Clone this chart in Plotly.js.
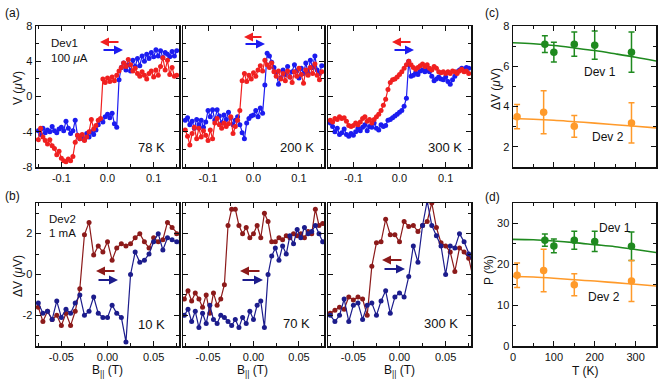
<!DOCTYPE html>
<html>
<head>
<meta charset="utf-8">
<script src="https://cdn.plot.ly/plotly-3.0.1.min.js"></script>
<style>
  html, body { margin: 0; padding: 0; background: #fff; }
  #chart { width: 663px; height: 379px; }
</style>
</head>
<body>
<div id="chart"></div>
<script>
// Spin-valve style hysteresis loops (a, b) and temperature dependence (c, d)

// ---- (a) Dev1, 100 uA : field sweep in T, voltage in uV ----
const fieldA = [-0.150,-0.145,-0.140,-0.135,-0.130,-0.125,-0.120,-0.115,-0.110,-0.105,
  -0.100,-0.095,-0.090,-0.085,-0.080,-0.075,-0.070,-0.065,-0.060,-0.055,
  -0.050,-0.045,-0.040,-0.035,-0.030,-0.025,-0.020,-0.015,-0.010,-0.005,
  0.000,
  0.005,0.010,0.015,0.020,0.025,0.030,0.035,0.040,0.045,0.050,
  0.055,0.060,0.065,0.070,0.075,0.080,0.085,0.090,0.095,0.100,
  0.105,0.110,0.115,0.120,0.125,0.130,0.135,0.140,0.145,0.150];

const v78Down = [-4.9,-3.6,-4.6,-5.0,-5.4,-4.9,-5.6,-5.9,-6.6,-6.2,
  -7.0,-7.3,-7.4,-7.1,-7.3,-6.8,-5.2,-4.4,-4.8,-4.3,
  -5.0,-4.6,-4.0,-2.6,-3.7,-3.3,-2.7,-2.5,2.0,1.6,
  2.1,
  1.7,2.2,1.8,2.4,2.9,3.3,3.8,3.4,4.2,3.6,
  2.9,3.2,2.6,2.3,2.8,2.4,2.0,2.6,2.9,2.2,
  3.0,2.4,3.4,4.4,3.0,4.1,2.5,3.3,2.3,2.4];
const v78Up = [-3.9,-4.3,-3.6,-4.1,-3.8,-4.0,-3.4,-3.9,-4.1,-3.7,
  -3.5,-3.9,-2.8,-3.6,-4.2,-3.9,-2.7,-4.4,-4.8,-4.5,
  -4.9,-4.2,-4.6,-4.0,-4.3,-3.8,-3.2,-2.6,-2.9,-2.3,
  -2.0,
  -2.4,-1.9,-3.1,-3.5,1.9,3.3,3.8,3.0,3.6,2.9,
  4.1,3.4,4.3,3.5,4.6,4.0,4.8,4.3,5.0,4.5,
  5.3,4.6,5.2,4.4,5.0,4.8,4.5,5.1,4.6,5.2];

const v200Down = [-3.8,-4.5,-5.5,-4.2,-3.5,-4.8,-3.6,-4.6,-3.9,-4.4,
  -5.0,-3.8,-4.8,-3.0,-2.5,-3.2,-3.6,-3.0,-3.4,-3.1,
  -2.3,-4.2,-3.4,-2.7,-1.6,1.8,2.6,1.7,2.4,2.0,
  2.7,
  2.3,3.0,3.5,2.9,4.1,3.6,3.3,3.8,2.8,2.3,
  2.9,2.0,2.6,1.8,2.9,2.2,1.6,2.8,2.3,3.2,
  2.5,1.5,3.0,2.4,3.3,2.6,3.7,2.4,1.9,2.8];
const v200Up = [-2.7,-2.4,-3.2,-2.8,-3.6,-2.6,-3.2,-2.7,-3.5,-2.9,
  -1.6,-2.3,-1.5,-2.7,-1.5,-2.2,-3.0,-2.1,-2.6,-1.8,
  -2.4,-3.2,-2.7,-2.3,-3.2,-4.1,-4.8,-3.0,-2.5,-2.2,
  -2.1,
  -1.6,-2.3,-1.3,-1.9,1.3,4.9,4.6,3.9,3.3,2.7,
  1.4,2.1,3.0,2.5,3.4,2.2,2.8,3.6,2.9,2.1,
  3.2,2.6,3.8,2.7,4.1,3.3,4.6,3.0,2.6,3.5];

const v300Down = [-2.7,-2.9,-2.5,-2.6,-2.3,-2.5,-2.4,-2.8,-3.3,-3.4,
  -3.3,-3.0,-3.2,-2.9,-2.5,-2.3,-2.8,-2.6,-3.0,-2.6,
  -2.3,-2.0,-1.6,-1.0,-0.3,0.8,1.6,1.9,2.0,2.2,
  2.5,
  2.8,3.2,3.6,4.0,3.6,3.3,3.1,3.3,3.5,3.7,
  3.4,3.6,3.2,3.0,3.4,3.2,2.8,2.7,2.8,2.6,
  2.8,2.6,2.9,2.8,2.6,2.9,3.1,2.8,2.9,2.6];
const v300Up = [-3.0,-3.4,-4.0,-3.6,-4.3,-4.1,-3.7,-4.3,-4.5,-4.2,
  -4.4,-4.0,-3.6,-3.9,-3.5,-3.2,-3.9,-3.4,-3.5,-3.0,
  -3.6,-3.8,-3.2,-3.4,-3.3,-2.7,-2.6,-2.4,-2.2,-2.0,
  -1.8,
  -1.6,-1.1,-0.2,4.0,2.3,2.4,2.7,2.5,2.9,3.0,
  2.8,3.0,2.8,2.3,1.8,2.0,2.2,2.0,1.9,2.2,
  1.7,1.4,1.9,2.3,2.8,3.0,3.2,3.1,3.3,3.2];

// ---- (b) Dev2, 1 mA ----
const fieldB = [-0.075,-0.070,-0.065,-0.060,-0.055,-0.050,-0.045,-0.040,-0.035,-0.030,
  -0.025,-0.020,-0.015,-0.010,-0.005,
  0.000,
  0.005,0.010,0.015,0.020,0.025,0.030,0.035,0.040,0.045,0.050,
  0.055,0.060,0.065,0.070,0.075,0.080];
const fieldB70 = [-0.076,-0.072,-0.068,-0.064,-0.060,-0.056,-0.052,-0.048,-0.044,-0.040,
  -0.036,-0.032,-0.028,-0.024,-0.020,-0.016,-0.012,-0.008,-0.004,
  0.000,
  0.004,0.008,0.012,0.016,0.020,0.024,0.028,0.032,0.036,0.040,
  0.044,0.048,0.052,0.056,0.060,0.064,0.068,0.072,0.076];

const dv10Down = [-1.6,-2.3,-1.8,-2.2,-2.0,-2.5,-1.9,-2.5,-1.8,-0.7,
  1.95,2.55,0.95,1.4,1.1,
  1.6,
  0.7,1.3,1.5,1.4,1.5,1.8,2.0,1.6,1.3,1.8,
  1.6,1.7,2.55,2.3,2.0,1.8];
const dv10Up = [-1.4,-1.9,-1.8,-2.2,-1.3,-2.1,-1.7,-1.9,-1.4,-1.0,
  -2.0,-1.8,-1.1,-1.9,-2.1,
  -2.1,
  -1.5,-1.9,-2.1,-3.3,0.0,1.1,0.6,0.7,1.0,1.6,
  2.0,1.2,1.8,1.7,1.6,1.5];

const dv70Down = [-1.2,-0.8,-1.3,-0.9,-1.2,-1.6,-1.0,-1.9,-0.9,-1.5,
  -1.2,-0.5,2.4,3.2,3.2,2.4,2.0,2.3,1.8,
  2.0,
  2.4,1.8,3.0,2.6,1.6,1.6,1.8,1.7,1.9,1.8,
  2.0,1.9,2.0,1.8,2.1,2.0,3.2,2.4,2.5];
const dv70Up = [-2.0,-1.7,-2.3,-1.8,-2.6,-1.9,-2.4,-1.5,-2.2,-2.4,
  -2.0,-2.1,-2.3,-2.5,-2.2,-2.6,-2.1,-2.4,-1.8,
  -2.2,
  -1.5,-1.3,-2.6,0.0,0.9,1.3,0.7,1.4,1.0,1.9,
  1.5,2.2,1.8,2.3,2.0,2.1,2.4,2.0,1.6];

const dv300Down = [-1.9,-1.75,-1.6,-1.7,-1.1,-1.25,-1.1,-1.2,-2.0,0.4,
  1.55,1.6,2.7,1.95,1.95,
  1.6,
  2.6,2.35,2.4,2.1,2.4,2.6,3.5,2.3,1.55,1.4,
  1.1,0.15,1.3,1.1,0.8,-0.2];
const dv300Up = [-2.0,-2.3,-2.0,-1.2,-2.3,-1.5,-1.4,-2.2,-1.5,-1.4,
  -2.0,-1.3,-0.8,-1.9,-1.1,
  -0.9,
  -1.1,-0.1,1.4,0.6,2.4,3.6,2.4,1.9,1.4,0.0,
  1.4,1.3,2.0,1.6,1.0,0.5];

// ---- (c), (d) temperature dependence ----
const tempDev1 = [78, 100, 150, 200, 290];
const tempDev2 = [10, 75, 150, 290];
const dvDev1 = [7.1, 6.7, 7.1, 7.05, 6.7];
const dvDev1Err = [0.42, 0.49, 0.6, 0.7, 1.0];
const dvDev2 = [3.5, 3.72, 3.02, 3.19];
const dvDev2Err = [0.6, 1.07, 0.54, 1.0];
const pDev1 = [25.9, 24.5, 25.9, 25.6, 24.4];
const pDev1Err = [1.5, 1.7, 2.2, 2.5, 3.5];
const pDev2 = [17.3, 18.5, 15.0, 15.9];
const pDev2Err = [3.0, 5.2, 2.7, 5.0];

const fitTemp = [0, 50, 100, 150, 200, 250, 300, 350];
const fitDv1 = [7.17, 7.12, 7.03, 6.91, 6.78, 6.62, 6.45, 6.26];
const fitDv2 = [3.41, 3.37, 3.32, 3.25, 3.18, 3.10, 3.02, 2.94];
const fitP1 = [26.1, 26.0, 25.7, 25.3, 24.8, 24.3, 23.6, 22.9];
const fitP2 = [17.0, 16.9, 16.6, 16.2, 15.9, 15.5, 15.1, 14.7];

// ---- tick labels ----
const aFieldTicks = [-0.1, 0, 0.1];
const aFieldLabels = ['-0.1', '0.0', '0.1'];
const aVoltTicks = [-8, -4, 0, 4, 8];
const aVoltLabels = ['-8', '-4', '0', '4', '8'];
const bFieldTicks = [-0.05, 0, 0.05];
const bFieldLabels = ['-0.05', '0.00', '0.05'];
const bVoltTicks = [-2, 0, 2];
const bVoltLabels = ['-2', '0', '2'];
const tempTicks = [0, 100, 200, 300];
const tempLabels = ['0', '100', '200', '300'];
const dvTicks = [2, 4, 6, 8];
const dvLabels = ['2', '4', '6', '8'];
const pTicks = [0, 10, 20, 30];
const pLabels = ['0', '10', '20', '30'];

const RED = '#f02020', BLUE = '#1c1cf0';
const DRED = '#8c1a1a', DBLUE = '#1c1c8c';
const GREEN = '#1f8a1f', ORANGE = '#ff9a2a';
const INK = '#111';

// pixel helpers for paper positions
const W = 663, H = 379;
const px = x => x / W;
const py = y => 1 - y / H;

function loop(x, y, color, n, size) {
    return {
        x: x, y: y, xaxis: 'x' + n, yaxis: 'y' + n,
        type: 'scatter', mode: 'lines+markers',
        line: { color: color, width: 1.2 },
        marker: { color: color, size: size }
    };
}

function points(x, y, err, color, n) {
    return {
        x: x, y: y, xaxis: 'x' + n, yaxis: 'y' + n,
        type: 'scatter', mode: 'markers',
        marker: { color: color, size: 7.5 },
        error_y: { type: 'data', array: err, color: color, thickness: 1.5, width: 3 }
    };
}

function fit(x, y, color, n) {
    return {
        x: x, y: y, xaxis: 'x' + n, yaxis: 'y' + n,
        type: 'scatter', mode: 'lines',
        line: { color: color, width: 1.6, shape: 'spline' }
    };
}

const traces = [
    loop(fieldA, v78Up, BLUE, '', 5),
    loop(fieldA, v78Down, RED, '', 5),
    loop(fieldA, v200Up, BLUE, 2, 5),
    loop(fieldA, v200Down, RED, 2, 5),
    loop(fieldA, v300Up, BLUE, 3, 5),
    loop(fieldA, v300Down, RED, 3, 5),
    loop(fieldB, dv10Down, DRED, 4, 5),
    loop(fieldB, dv10Up, DBLUE, 4, 5),
    loop(fieldB70, dv70Down, DRED, 5, 5),
    loop(fieldB70, dv70Up, DBLUE, 5, 5),
    loop(fieldB, dv300Down, DRED, 6, 5),
    loop(fieldB, dv300Up, DBLUE, 6, 5),
    fit(fitTemp, fitDv1, GREEN, 7),
    fit(fitTemp, fitDv2, ORANGE, 7),
    points(tempDev1, dvDev1, dvDev1Err, GREEN, 7),
    points(tempDev2, dvDev2, dvDev2Err, ORANGE, 7),
    fit(fitTemp, fitP1, GREEN, 8),
    fit(fitTemp, fitP2, ORANGE, 8),
    points(tempDev1, pDev1, pDev1Err, GREEN, 8),
    points(tempDev2, pDev2, pDev2Err, ORANGE, 8)
];

function frame(opts, minorStep) {
    return Object.assign({
        showline: true, linecolor: INK, linewidth: 1.5, mirror: 'ticks',
        ticks: 'inside', ticklen: 5, tickwidth: 1, tickcolor: INK,
        showgrid: false, zeroline: false, tickmode: 'array',
        tickfont: { size: 11, color: INK },
        minor: { tickmode: 'linear', tick0: 0, dtick: minorStep, ticks: 'inside', ticklen: 3, tickcolor: INK }
    }, opts);
}

const colA = [[36, 179], [183, 324], [328, 471]];
const colC = [513, 656];
const rowA = [py(167), py(26)];
const rowB = [py(346), py(203)];

const layout = {
    width: W, height: H,
    margin: { l: 0, r: 0, t: 0, b: 0 },
    paper_bgcolor: '#fff', plot_bgcolor: '#fff',
    showlegend: false,
    font: { family: 'Liberation Sans, Arial, sans-serif', color: INK }
};

colA.forEach((c, i) => {
    const na = i + 1, nb = i + 4;
    const ka = na === 1 ? '' : na;
    layout['xaxis' + ka] = frame({ domain: [px(c[0]), px(c[1])], anchor: 'y' + ka,
        range: [-0.155, 0.155], tickvals: aFieldTicks, ticktext: aFieldLabels }, 0.05);
    layout['yaxis' + ka] = frame({ domain: rowA, anchor: 'x' + ka,
        range: [-8, 8], tickvals: aVoltTicks, ticktext: aVoltLabels, showticklabels: i === 0 }, 2);
    layout['xaxis' + nb] = frame({ domain: [px(c[0]), px(c[1])], anchor: 'y' + nb,
        range: [-0.0775, 0.0775], tickvals: bFieldTicks, ticktext: bFieldLabels }, 0.025);
    layout['yaxis' + nb] = frame({ domain: rowB, anchor: 'x' + nb,
        range: [-3.5, 3.5], tickvals: bVoltTicks, ticktext: bVoltLabels, showticklabels: i === 0 }, 1);
});

layout.xaxis7 = frame({ domain: [px(colC[0]), px(colC[1])], anchor: 'y7',
    range: [0, 350], tickvals: tempTicks, ticktext: tempLabels, showticklabels: false }, 50);
layout.yaxis7 = frame({ domain: rowA, anchor: 'x7',
    range: [1, 8], tickvals: dvTicks, ticktext: dvLabels }, 1);
layout.xaxis8 = frame({ domain: [px(colC[0]), px(colC[1])], anchor: 'y8',
    range: [0, 350], tickvals: tempTicks, ticktext: tempLabels }, 50);
layout.yaxis8 = frame({ domain: rowB, anchor: 'x8',
    range: [0, 35], tickvals: pTicks, ticktext: pLabels }, 5);

function label(x, y, text, size, opts) {
    return Object.assign({
        xref: 'paper', yref: 'paper', x: px(x), y: py(y), text: text,
        xanchor: 'center', yanchor: 'middle',
        showarrow: false, font: { size: size, color: INK }
    }, opts || {});
}

function arrow(headX, tailX, y, color) {
    return {
        xref: 'paper', yref: 'paper', x: px(headX), y: py(y), text: '',
        showarrow: true, ax: tailX - headX, ay: 0,
        arrowcolor: color, arrowwidth: 2, arrowhead: 2, arrowsize: 0.9
    };
}

layout.annotations = [
    label(12, 13, '(a)', 12), label(12, 196, '(b)', 12),
    label(492, 13, '(c)', 12), label(492, 197, '(d)', 12),
    label(18, 88, 'V (<i>μ</i>V)', 12, { textangle: -90 }),
    label(18, 276, 'ΔV (<i>μ</i>V)', 12, { textangle: -90 }),
    label(496, 89, 'ΔV (<i>μ</i>V)', 12, { textangle: -90 }),
    label(489, 270, 'P (%)', 12, { textangle: -90 }),
    label(107, 371, 'B<sub>||</sub> (T)', 12),
    label(253, 371, 'B<sub>||</sub> (T)', 12),
    label(399, 371, 'B<sub>||</sub> (T)', 12),
    label(585, 371, 'T (K)', 12),
    label(49, 43, 'Dev1', 11.5, { xanchor: 'left' }),
    label(49, 58, '100 <i>μ</i>A', 11.5, { xanchor: 'left' }),
    label(47, 219, 'Dev2', 11.5, { xanchor: 'left' }),
    label(47, 233, '1 mA', 11.5, { xanchor: 'left' }),
    label(151, 147, '78 K', 13), label(297, 148, '200 K', 13), label(445, 147, '300 K', 13),
    label(151, 324, '10 K', 13), label(296, 323, '70 K', 13), label(441, 323, '300 K', 13),
    label(600, 72, 'Dev 1', 12), label(608, 137, 'Dev 2', 12),
    label(615, 228, 'Dev 1', 12), label(604, 297, 'Dev 2', 12),
    arrow(100, 120, 42, RED), arrow(123, 102, 50, BLUE),
    arrow(244, 263, 37, RED), arrow(265, 244, 44, BLUE),
    arrow(392, 412, 42, RED), arrow(414, 393, 50, BLUE),
    arrow(96, 116, 271, DRED), arrow(118, 97, 280, DBLUE),
    arrow(240, 261, 271, DRED), arrow(263, 241, 280, DBLUE),
    arrow(382, 403, 260, DRED), arrow(405, 383, 269, DBLUE)
];

Plotly.newPlot('chart', traces, layout, { staticPlot: true, displayModeBar: false });
</script>
</body>
</html>
